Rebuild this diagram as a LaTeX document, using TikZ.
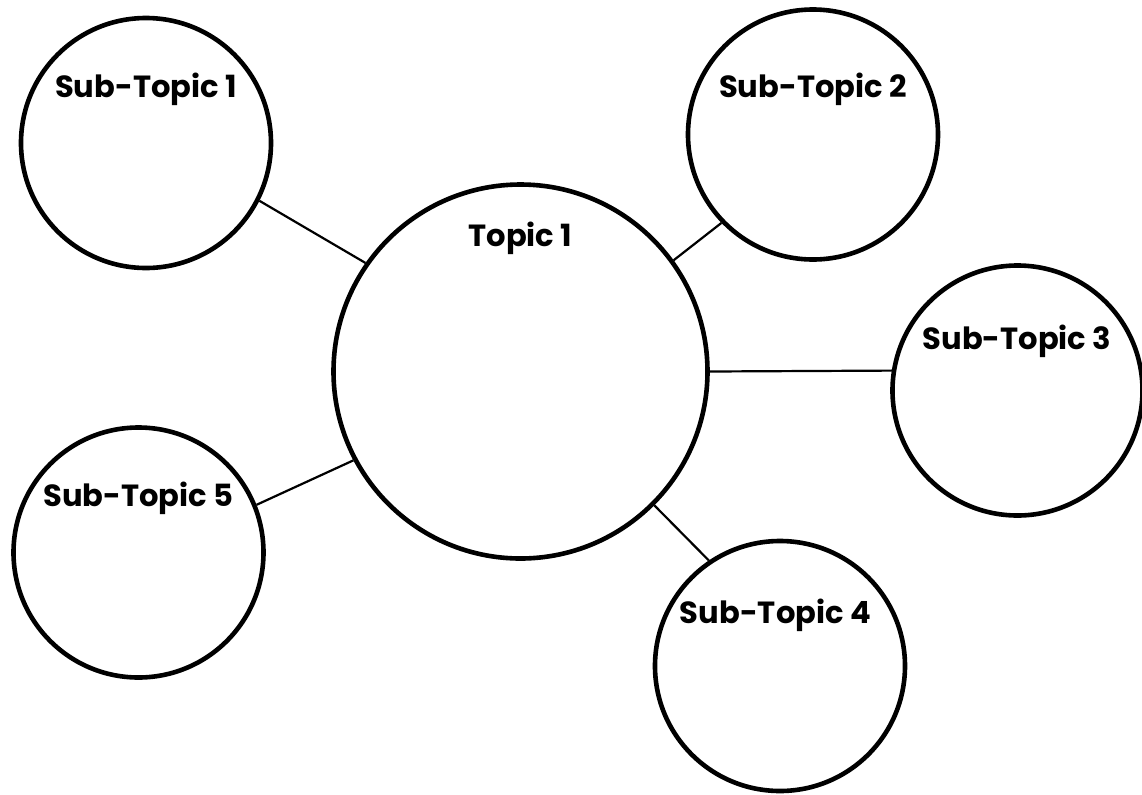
\documentclass[tikz,border=0pt]{standalone}
\usepackage{fontspec}
\setmainfont{Poppins}
\usetikzlibrary{calc}

\begin{document}
\begin{tikzpicture}[x=0.5pt,y=-0.5pt]

% styles for the circles, links and titles
\tikzset{
  bubble/.style={draw=black, line width=2.3pt, circle, inner sep=0pt, minimum size=125pt},
  bigbubble/.style={bubble, minimum size=187pt},
  link/.style={draw=black, line width=1.1pt},
  title/.style={anchor=base, inner sep=0pt, font=\fontsize{15.3}{18}\selectfont\bfseries}
}

\useasboundingbox (0,0) rectangle (1142,794);

% main topic
\node[bigbubble] (topic) at (520.5,371.5) {};
\node[title] (topiclbl) at (520.5,246) {Topic 1};

% sub-topics
\node[bubble] (sub1) at (146,143) {};
\node[bubble] (sub2) at (813,134.5) {};
\node[bubble] (sub3) at (1017.5,390.5) {};
\node[bubble] (sub4) at (780,666) {};
\node[bubble] (sub5) at (138.5,552.5) {};

\node[title] (sub1lbl) at (146,97) {Sub-Topic 1};
\node[title] (sub2lbl) at (813,97) {Sub-Topic 2};
\node[title] (sub3lbl) at (1017,349) {Sub-Topic 3};
\node[title] (sub4lbl) at (775.5,623) {Sub-Topic 4};
\node[title] (sub5lbl) at (138.5,506) {Sub-Topic 5};

% links between the bubbles
\draw[link] (sub1.-27.4) -- (topic.145.4);
\draw[link] (sub2.224.2) -- (topic.36);
\draw[link] (sub3.171.6) -- (topic.0);
\draw[link] (sub4.124.4) -- (topic.-45.4);
\draw[link] (sub5.22.7) -- (topic.208.8);

\end{tikzpicture}
\end{document}
